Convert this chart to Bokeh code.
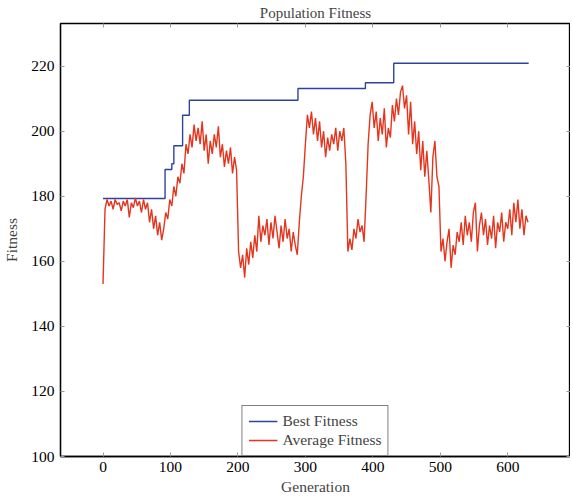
import numpy as np
from bokeh.plotting import figure
from bokeh.models import LinearAxis, Range1d, Legend, LegendItem, FixedTicker, CustomJSTickFormatter
from bokeh.embed import file_html
from bokeh.resources import INLINE

avg_fitness = [
    153, 176, 179, 177, 178.5, 176, 179, 177.5, 178, 175.5,
    178.5, 177, 179, 173.5, 178, 176.5, 179.5, 177, 178.5, 175,
    179, 176, 178, 172, 176, 170, 174, 168, 172, 166.5,
    170, 175, 173, 179, 177, 183, 180, 186, 184, 190,
    187, 196, 193, 199, 195, 202, 197, 201, 196, 203,
    194, 199, 190, 197, 193, 199, 195, 201.5, 192, 196,
    189, 194, 190, 195, 187, 192, 188, 163, 158, 162,
    155, 164, 159, 166, 161, 168, 163, 174, 166, 171,
    168, 173, 165, 172, 167, 174, 169, 164, 171, 166,
    173, 167, 170, 163, 169, 165, 162, 172, 180, 186,
    196, 205, 201, 206, 199, 204, 197, 203, 195, 200,
    192, 198, 194, 199, 196, 201, 194, 200, 197, 201,
    190, 163, 167, 163.5, 170, 167, 173, 169, 171, 166,
    180, 196, 205, 209, 201, 206, 197, 204, 199, 207,
    195, 201, 198, 208, 203, 210, 205, 212, 214, 207,
    211, 199, 209, 196, 203, 193, 200, 188, 197, 186,
    194, 185, 175, 192, 197, 186, 183, 163, 167, 160,
    166, 170, 158, 165, 162, 169, 166, 172, 165, 174,
    168, 172, 166, 175, 178, 163, 171, 175, 168, 173,
    165, 171, 167, 174, 164, 172, 169, 175, 166, 172,
    170, 176, 168, 178, 172, 179, 170, 176, 168, 174,
    172,
]
avg_step = 3
generations = list(range(0, avg_step * len(avg_fitness), avg_step))

# Best fitness: generation where each level starts, and its value
best_gen = [0, 92, 102, 105, 118, 128, 289, 389, 431, 631]
best_fitness = [179.3, 188.2, 190.0, 195.5, 204.9, 209.5, 213.1, 214.9, 220.9, 220.9]

x_ticks = [0, 100, 200, 300, 400, 500, 600]
y_ticks = [100, 120, 140, 160, 180, 200, 220]

FONT = "Liberation Serif"
FS = "15.5px"
BLUE = "#2f42a0"
RED = "#e4361f"

p = figure(frame_width=510, frame_height=433,
           x_range=Range1d(-63, 693), y_range=Range1d(100, 233.1),
           output_backend="svg", toolbar_location=None,
           title="Population Fitness",
           min_border_left=60, min_border_right=0, min_border_top=23, min_border_bottom=0)

p.title.align = "center"
p.title.text_font = FONT
p.title.text_font_size = "15px"
p.title.text_font_style = "normal"
p.title.standoff = 5
p.title.offset = 0

p.xgrid.visible = False
p.ygrid.visible = False
p.outline_line_color = "black"
p.outline_line_width = 1.3

r_best = p.step(best_gen, best_fitness, mode="after", line_color=BLUE, line_width=1.4)
r_avg = p.line(generations, avg_fitness, line_color=RED, line_width=1.4)

def style_axis(ax, labels=True):
    ax.axis_line_color = "black"
    ax.axis_line_width = 1.3
    ax.major_tick_in = 4
    ax.major_tick_out = 0
    ax.minor_tick_in = 0
    ax.minor_tick_out = 0
    ax.major_tick_line_color = "#9a9a9a"
    ax.major_label_text_font = FONT
    ax.major_label_text_font_size = FS
    ax.major_label_text_color = "black"
    ax.axis_label_text_font = FONT
    ax.axis_label_text_font_size = FS
    ax.axis_label_text_font_style = "normal"
    if not labels:
        ax.formatter = CustomJSTickFormatter(code="return ''")
        ax.major_label_standoff = 0

p.xaxis.ticker = FixedTicker(ticks=x_ticks)
p.yaxis.ticker = FixedTicker(ticks=y_ticks)
p.xaxis.axis_label = "Generation"
p.yaxis.axis_label = "Fitness"
style_axis(p.xaxis[0])
style_axis(p.yaxis[0])
p.xaxis.major_label_standoff = 5
p.yaxis.major_label_standoff = 6
p.xaxis.axis_label_standoff = 3
p.yaxis.axis_label_standoff = 8

top = LinearAxis(ticker=FixedTicker(ticks=x_ticks))
style_axis(top, labels=False)
top.axis_line_color = None
p.add_layout(top, "above")
right = LinearAxis(ticker=FixedTicker(ticks=y_ticks))
style_axis(right, labels=False)
right.axis_line_color = None
p.add_layout(right, "right")

legend = Legend(items=[LegendItem(label="Best Fitness", renderers=[r_best]),
                       LegendItem(label="Average Fitness", renderers=[r_avg])],
                location="bottom_center")
legend.label_text_font = FONT
legend.label_text_font_size = FS
legend.border_line_color = "black"
legend.border_line_width = 1.3
legend.margin = 0
legend.padding = 6
legend.spacing = 1
legend.glyph_width = 29
legend.label_height = 18
legend.glyph_height = 18
legend.label_standoff = 5
legend.background_fill_alpha = 1
p.add_layout(legend, "center")

open("out.html", "w").write(file_html(p, INLINE))
